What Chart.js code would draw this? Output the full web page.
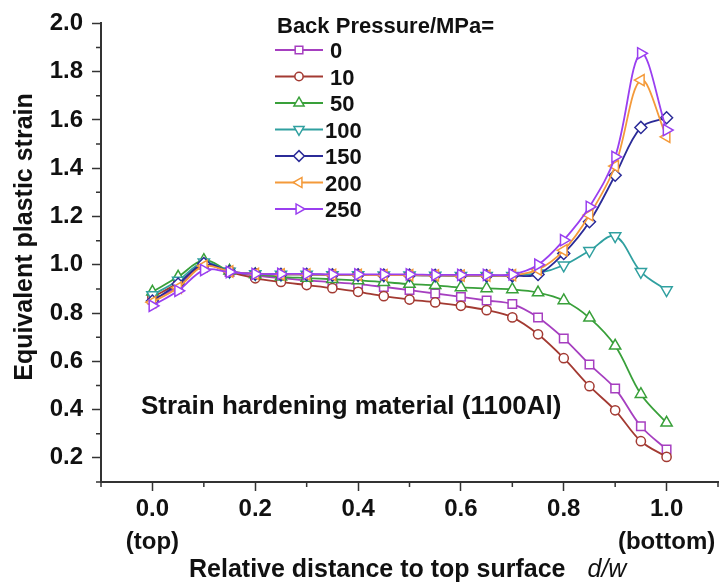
<!DOCTYPE html>
<html>
<head>
<meta charset="utf-8">
<script src="https://cdn.jsdelivr.net/npm/chart.js@4.4.1/dist/chart.umd.min.js"></script>
<style>
  html, body { margin: 0; padding: 0; background: #fff; }
  #wrap { width: 727px; height: 585px; }
</style>
</head>
<body>
<div id="wrap"><canvas id="strainChart"></canvas></div>
<script>
// relative distance d/w through the thickness
const distance = [0, 0.05, 0.1, 0.15, 0.2, 0.25, 0.3, 0.35, 0.4, 0.45, 0.5,
                  0.55, 0.6, 0.65, 0.7, 0.75, 0.8, 0.85, 0.9, 0.95, 1.0];

// back pressure levels (MPa)
const pressures = ['0', '10', '50', '100', '150', '200', '250'];

// equivalent plastic strain for each back pressure
const strain0   = [0.855, 0.91, 1.0, 0.97, 0.955, 0.945, 0.935, 0.928, 0.92, 0.908, 0.895,
                   0.881, 0.867, 0.852, 0.837, 0.782, 0.695, 0.587, 0.487, 0.331, 0.235];
const strain10  = [0.865, 0.925, 1.0, 0.97, 0.944, 0.929, 0.916, 0.903, 0.888, 0.87, 0.856,
                   0.844, 0.83, 0.812, 0.782, 0.712, 0.613, 0.497, 0.397, 0.269, 0.204];
const strain50  = [0.888, 0.95, 1.019, 0.975, 0.96, 0.95, 0.945, 0.94, 0.935, 0.928, 0.92,
                   0.915, 0.906, 0.902, 0.898, 0.885, 0.852, 0.78, 0.664, 0.464, 0.345];
const strain100 = [0.875, 0.935, 1.01, 0.972, 0.962, 0.96, 0.96, 0.958, 0.958, 0.957, 0.957,
                   0.956, 0.955, 0.955, 0.955, 0.965, 0.998, 1.058, 1.119, 0.971, 0.895];
const strain150 = [0.85, 0.92, 1.005, 0.972, 0.962, 0.96, 0.96, 0.958, 0.958, 0.957, 0.957,
                   0.956, 0.955, 0.955, 0.955, 0.96, 1.047, 1.178, 1.371, 1.569, 1.609];
const strain200 = [0.845, 0.905, 0.995, 0.972, 0.962, 0.96, 0.96, 0.958, 0.958, 0.957, 0.957,
                   0.956, 0.955, 0.955, 0.957, 0.98, 1.06, 1.206, 1.409, 1.765, 1.53];
const strain250 = [0.83, 0.892, 0.978, 0.97, 0.962, 0.962, 0.962, 0.96, 0.96, 0.96, 0.96,
                   0.958, 0.958, 0.958, 0.96, 1.0, 1.102, 1.24, 1.447, 1.876, 1.558];

const strainSeries = [strain0, strain10, strain50, strain100, strain150, strain200, strain250];

// axis tick labels
const xMajorTicks = [0, 0.2, 0.4, 0.6, 0.8, 1.0];
const xTickLabels = [['0.0', '(top)'], ['0.2'], ['0.4'], ['0.6'], ['0.8'], ['1.0', '(bottom)']];
const yMajorTicks = [0.2, 0.4, 0.6, 0.8, 1.0, 1.2, 1.4, 1.6, 1.8, 2.0];
const yTickLabels = ['0.2', '0.4', '0.6', '0.8', '1.0', '1.2', '1.4', '1.6', '1.8', '2.0'];

const FONT = "'Liberation Sans', Arial, Helvetica, sans-serif";
const axisColor = '#333';
const textColor = '#111';

// marker look of each series
const seriesStyle = [
    { color: '#a63fc0', shape: 'rect',     rotation: 0,   radius: 6 },
    { color: '#a33a32', shape: 'circle',   rotation: 0,   radius: 4.6 },
    { color: '#39a03a', shape: 'triangle', rotation: 0,   radius: 6.5 },
    { color: '#30a0a0', shape: 'triangle', rotation: 180, radius: 6.5 },
    { color: '#2b2b98', shape: 'rectRot',  rotation: 0,   radius: 6 },
    { color: '#f49a3a', shape: 'triangle', rotation: -90, radius: 6.5 },
    { color: '#9a3ff0', shape: 'triangle', rotation: 90,  radius: 6.5 }
];

function tickIndex(list, value) {
    return list.findIndex(t => Math.round(t * 10) === Math.round(value * 10));
}

const datasets = strainSeries.map((values, i) => ({
    label: pressures[i],
    data: values.map((v, j) => ({ x: distance[j], y: v })),
    borderColor: seriesStyle[i].color,
    borderWidth: 1.8,
    backgroundColor: '#fff',
    pointStyle: seriesStyle[i].shape,
    rotation: seriesStyle[i].rotation,
    pointRadius: seriesStyle[i].radius,
    pointBorderWidth: 1.5,
    pointBackgroundColor: '#fff',
    pointBorderColor: seriesStyle[i].color,
    tension: 0.35,
    order: strainSeries.length - 1 - i
}));

// short minor tick marks between the labelled ones
const minorTicks = {
    id: 'minorTicks',
    afterDraw(chart) {
        const { ctx } = chart;
        const xs = chart.scales.x, ys = chart.scales.y;
        ctx.save();
        ctx.strokeStyle = axisColor;
        ctx.lineWidth = 1.5;
        ctx.beginPath();
        for (let k = -1; k <= 11; k += 2) {
            const px = xs.getPixelForValue(k / 10);
            ctx.moveTo(px, xs.top);
            ctx.lineTo(px, xs.top + 5);
        }
        for (let k = 1; k <= 19; k += 2) {
            const py = ys.getPixelForValue(k / 10);
            ctx.moveTo(ys.right, py);
            ctx.lineTo(ys.right - 5, py);
        }
        ctx.stroke();
        ctx.restore();
    }
};

// legend box, axis titles and the material note
const annotations = {
    id: 'annotations',
    afterDraw(chart) {
        const { ctx } = chart;
        const drawPoint = Chart.helpers && Chart.helpers.drawPoint;
        ctx.save();
        ctx.fillStyle = textColor;
        ctx.textBaseline = 'alphabetic';

        // legend
        ctx.font = 'bold 22px ' + FONT;
        ctx.textAlign = 'left';
        ctx.fillText('Back Pressure/MPa=', 277, 33);
        chart.data.datasets.forEach((ds, i) => {
            const y = 50 + i * 26.5;
            const st = seriesStyle[i];
            ctx.strokeStyle = st.color;
            ctx.lineWidth = 1.8;
            ctx.beginPath();
            ctx.moveTo(275, y);
            ctx.lineTo(323, y);
            ctx.stroke();
            ctx.fillStyle = '#fff';
            ctx.lineWidth = 1.5;
            if (drawPoint) {
                drawPoint(ctx, { pointStyle: st.shape, rotation: st.rotation, radius: st.radius * 0.9, borderWidth: 1.5 }, 299, y);
            }
            ctx.fillStyle = textColor;
            ctx.fillText(ds.label, ds.label.length > 2 ? 325 : 330, y + 8);
        });

        // material note
        ctx.font = 'bold 26px ' + FONT;
        ctx.fillText('Strain hardening material (1100Al)', 141, 414);

        // x axis title
        ctx.font = 'bold 25px ' + FONT;
        const main = 'Relative distance to top surface';
        ctx.fillText(main, 189, 577);
        const w = ctx.measureText(main).width;
        ctx.font = 'italic 25px ' + FONT;
        ctx.fillText('d/w', 189 + w + 22, 577);

        // y axis title
        ctx.translate(25, 237);
        ctx.rotate(-Math.PI / 2);
        ctx.font = 'bold 25px ' + FONT;
        ctx.textAlign = 'center';
        ctx.textBaseline = 'middle';
        ctx.fillText('Equivalent plastic strain', 0, 0);
        ctx.restore();
    }
};

new Chart('strainChart', {
    type: 'line',
    data: { datasets: datasets },
    options: {
        responsive: true,
        maintainAspectRatio: false,
        animation: false,
        devicePixelRatio: 1,
        layout: { padding: { top: 23, right: 9, left: 0, bottom: 0 } },
        plugins: {
            legend: { display: false },
            tooltip: { enabled: false }
        },
        scales: {
            x: {
                type: 'linear',
                min: -0.1,
                max: 1.1,
                afterFit: (scale) => { scale.height = 103; },
                ticks: {
                    stepSize: 0.1,
                    autoSkip: false,
                    maxRotation: 0,
                    padding: 2,
                    color: textColor,
                    font: { family: FONT, size: 24, weight: 'bold', lineHeight: 1.36 },
                    callback: (value) => {
                        const i = tickIndex(xMajorTicks, value);
                        return i >= 0 ? xTickLabels[i] : '';
                    }
                },
                grid: {
                    drawOnChartArea: false,
                    tickLength: 9,
                    tickWidth: 1.5,
                    tickColor: (c) => tickIndex(xMajorTicks, c.tick.value) >= 0 ? axisColor : 'rgba(0,0,0,0)'
                },
                border: { color: axisColor, width: 2 }
            },
            y: {
                type: 'linear',
                min: 0.1,
                max: 2.0,
                afterFit: (scale) => { scale.width = 101; },
                ticks: {
                    stepSize: 0.1,
                    autoSkip: false,
                    padding: 9,
                    color: textColor,
                    font: { family: FONT, size: 24, weight: 'bold' },
                    callback: (value) => {
                        const i = tickIndex(yMajorTicks, value);
                        return i >= 0 ? yTickLabels[i] : '';
                    }
                },
                grid: {
                    drawOnChartArea: false,
                    tickLength: 9,
                    tickWidth: 1.5,
                    tickColor: (c) => tickIndex(yMajorTicks, c.tick.value) >= 0 ? axisColor : 'rgba(0,0,0,0)'
                },
                border: { color: axisColor, width: 2 }
            }
        }
    },
    plugins: [minorTicks, annotations]
});
</script>
</body>
</html>
